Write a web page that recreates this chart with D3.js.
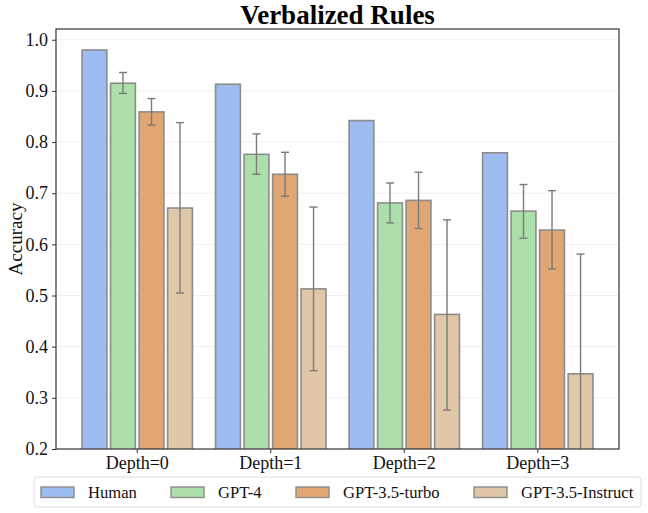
<!DOCTYPE html>
<html>
<head>
<meta charset="utf-8">
<script src="https://cdn.jsdelivr.net/npm/d3@7"></script>
<style>
  body { margin: 0; background: #fff; }
  text { font-family: "Liberation Serif", "Times New Roman", serif; }
</style>
</head>
<body>
<div id="container"></div>
<script>
// data
var categories = ["Depth=0", "Depth=1", "Depth=2", "Depth=3"];
var series = ["Human", "GPT-4", "GPT-3.5-turbo", "GPT-3.5-Instruct"];
var colors = ["#9dbcf0", "#addfab", "#e0a774", "#dfc7a8"];
var yTicks = [0.2, 0.3, 0.4, 0.5, 0.6, 0.7, 0.8, 0.9, 1.0];

// mean per series, one value per depth
var human    = [0.980, 0.913, 0.842, 0.779];
var gpt4     = [0.915, 0.776, 0.681, 0.665];
var turbo    = [0.859, 0.737, 0.686, 0.628];
var instruct = [0.671, 0.513, 0.463, 0.347];
// error bar ends (low, high); human has none
var gpt4Err     = [[0.895, 0.936], [0.737, 0.816], [0.642, 0.720], [0.612, 0.717]];
var turboErr    = [[0.833, 0.885], [0.694, 0.780], [0.631, 0.741], [0.552, 0.705]];
var instructErr = [[0.505, 0.838], [0.353, 0.673], [0.276, 0.648], [0.113, 0.581]];

var values = [human, gpt4, turbo, instruct];
var errors = [null, gpt4Err, turboErr, instructErr];

var width = 648, height = 513;
var pLeft = 56, pRight = 619, pTop = 29, pBottom = 449;

var svg = d3.select('#container').append('svg')
  .attr('width', width)
  .attr('height', height);

var x = d3.scaleBand()
  .domain(categories)
  .range([pLeft, pRight])
  .paddingInner(0.139)
  .paddingOuter(0.178);

var xs = d3.scaleBand()
  .domain(series)
  .range([0, x.bandwidth()])
  .paddingInner(0.13)
  .paddingOuter(0.08);

var y = d3.scaleLinear()
  .domain([0.2, 1.021])
  .range([pBottom, pTop]);

var color = d3.scaleOrdinal().domain(series).range(colors);

// grid
svg.append('g').selectAll('line').data(yTicks.slice(1))
  .enter().append('line')
    .attr('x1', pLeft).attr('x2', pRight)
    .attr('y1', function(d) { return y(d); })
    .attr('y2', function(d) { return y(d); })
    .style('stroke', '#efefef')
    .style('stroke-width', 1);

svg.append('defs').append('clipPath').attr('id', 'plot')
  .append('rect').attr('x', pLeft).attr('y', pTop)
  .attr('width', pRight - pLeft).attr('height', pBottom - pTop);

// bars
var rows = [];
series.forEach(function(s, i) {
  categories.forEach(function(c, j) {
    rows.push({ s: s, c: c, v: values[i][j], e: errors[i] ? errors[i][j] : null });
  });
});

var g = svg.append('g').attr('clip-path', 'url(#plot)');

g.selectAll('rect').data(rows)
  .enter().append('rect')
    .attr('x', function(d) { return x(d.c) + xs(d.s); })
    .attr('width', xs.bandwidth())
    .attr('y', function(d) { return y(d.v); })
    .attr('height', function(d) { return y(0.2) - y(d.v) + 2; })
    .style('fill', function(d) { return color(d.s); })
    .style('stroke', '#8c8c8c')
    .style('stroke-width', 1.6);

var errRows = rows.filter(function(d) { return d.e; });
var cap = 4;

var eb = g.selectAll('g.err').data(errRows)
  .enter().append('g').attr('class', 'err')
    .style('stroke', '#7b7b7b')
    .style('stroke-width', 1.4);

eb.append('line')
  .attr('x1', function(d) { return x(d.c) + xs(d.s) + xs.bandwidth() / 2; })
  .attr('x2', function(d) { return x(d.c) + xs(d.s) + xs.bandwidth() / 2; })
  .attr('y1', function(d) { return y(d.e[0]); })
  .attr('y2', function(d) { return y(d.e[1]); });

[0, 1].forEach(function(k) {
  eb.append('line')
    .attr('x1', function(d) { return x(d.c) + xs(d.s) + xs.bandwidth() / 2 - cap; })
    .attr('x2', function(d) { return x(d.c) + xs(d.s) + xs.bandwidth() / 2 + cap; })
    .attr('y1', function(d) { return y(d.e[k]); })
    .attr('y2', function(d) { return y(d.e[k]); });
});

// frame
svg.append('rect')
  .attr('x', pLeft).attr('y', pTop)
  .attr('width', pRight - pLeft).attr('height', pBottom - pTop)
  .style('fill', 'none')
  .style('stroke', '#333')
  .style('stroke-width', 1.2);

// axes
var yAxis = svg.append('g')
  .attr('transform', 'translate(' + pLeft + ',0)')
  .call(d3.axisLeft(y).tickValues(yTicks).tickFormat(d3.format('.1f')).tickSize(4).tickPadding(4));
yAxis.select('.domain').remove();
yAxis.selectAll('line').style('stroke', '#333');
yAxis.selectAll('text').style('font-size', '18px').style('fill', '#111');

var xAxis = svg.append('g')
  .attr('transform', 'translate(0,' + pBottom + ')')
  .call(d3.axisBottom(x).tickSize(4).tickPadding(3));
xAxis.select('.domain').remove();
xAxis.selectAll('line').style('stroke', '#333');
xAxis.selectAll('text').style('font-size', '18px').style('fill', '#111');

svg.append('text')
  .attr('transform', 'translate(22,' + ((pTop + pBottom) / 2) + ') rotate(-90)')
  .attr('text-anchor', 'middle')
  .style('font-size', '19px')
  .style('fill', '#111')
  .text('Accuracy');

svg.append('text')
  .attr('x', (pLeft + pRight) / 2)
  .attr('y', 24)
  .attr('text-anchor', 'middle')
  .style('font-size', '27px')
  .style('font-weight', 'bold')
  .text('Verbalized Rules');

// legend
var legX = [41, 171, 296, 474];
var leg = svg.append('g');
leg.append('rect')
  .attr('x', 34).attr('y', 477)
  .attr('width', 607).attr('height', 30)
  .attr('rx', 3)
  .style('fill', '#fff')
  .style('stroke', '#dcdcdc')
  .style('stroke-width', 1);

var item = leg.selectAll('g.item').data(series)
  .enter().append('g').attr('class', 'item')
    .attr('transform', function(d, i) { return 'translate(' + legX[i] + ',0)'; });
item.append('rect')
  .attr('x', 0).attr('y', 487)
  .attr('width', 33).attr('height', 10.5)
  .style('fill', function(d) { return color(d); })
  .style('stroke', '#8c8c8c')
  .style('stroke-width', 1.4);
item.append('text')
  .attr('x', 47).attr('y', 498)
  .style('font-size', '16.6px')
  .style('fill', '#111')
  .text(function(d) { return d; });
</script>
</body>
</html>
